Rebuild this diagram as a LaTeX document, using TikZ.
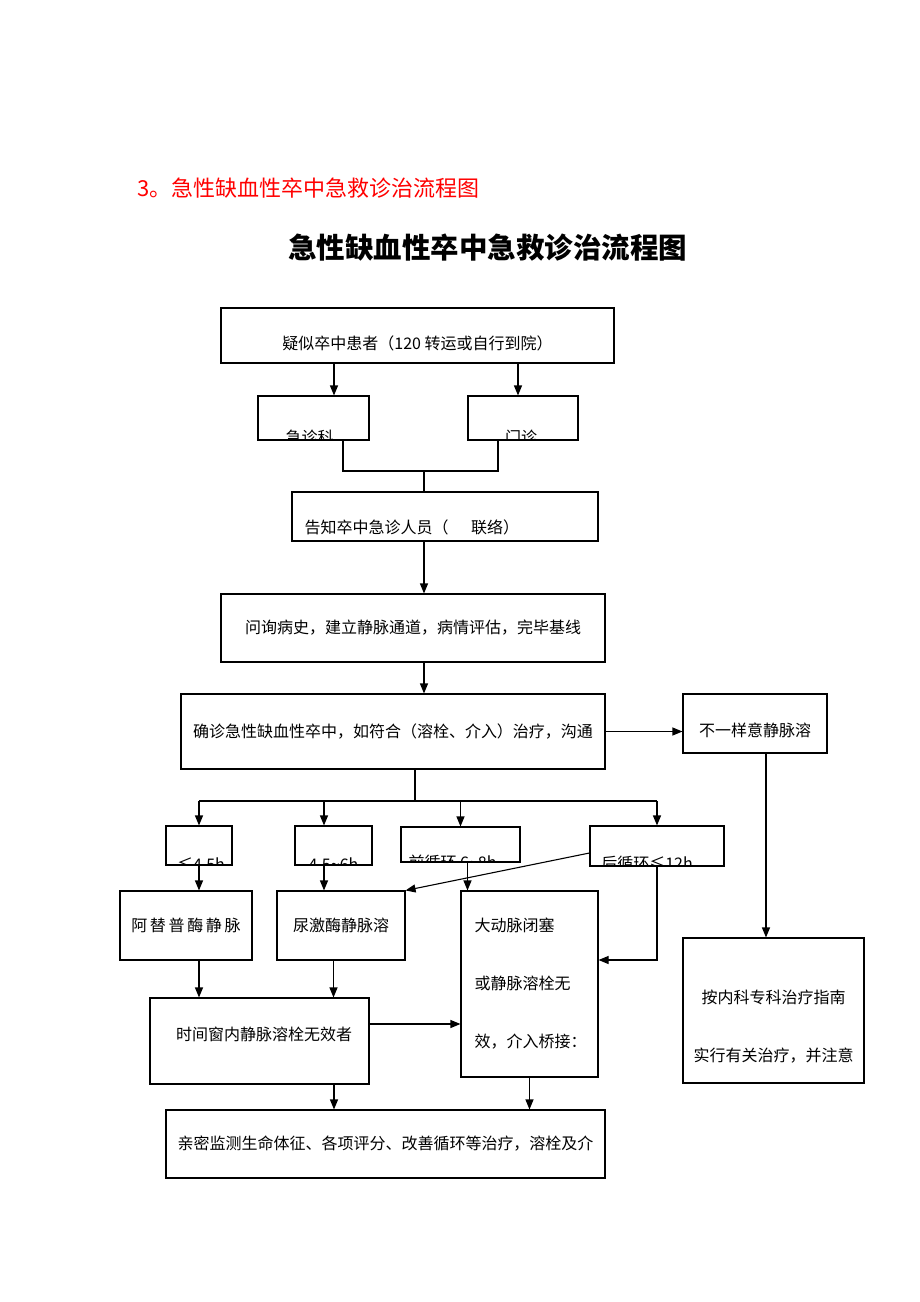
\documentclass[tikz,border=0pt]{standalone}
\usepackage{fontspec}
\newfontfamily\cjk{Noto Sans CJK SC}
\usetikzlibrary{arrows.meta}

\tikzset{
  box/.style={draw, line width=1.1pt, inner sep=0pt, font=\cjk\fontsize{16pt}{19pt}\selectfont},
  txt/.style={inner sep=0pt, font=\cjk\fontsize{16pt}{19pt}\selectfont},
  arr/.style={line width=1.1pt, -{Triangle[length=10pt,width=8pt]}},
  link/.style={line width=1.1pt}
}

\begin{document}
\begin{tikzpicture}[x=1pt,y=-1pt]
  \useasboundingbox (0,0) rectangle (920,1302);
  % headings
  \node[txt, anchor=west, text=red, font=\cjk\fontsize{22pt}{26pt}\selectfont] (head) at (137,188) {3。急性缺血性卒中急救诊治流程图};
  \node[txt, font=\cjk\bfseries\fontsize{28.5pt}{34pt}\selectfont] (title) at (487.5,248) {急性缺血性卒中急救诊治流程图};

  % boxes
  \node[box, minimum width=393, minimum height=55] (tb) at (417.5,335.5) {};
  \node[box, minimum width=111, minimum height=44] (jz) at (313.5,418) {};
  \node[box, minimum width=110, minimum height=44] (mz) at (523,418) {};
  \node[box, minimum width=306, minimum height=49] (gz) at (445,516.5) {};
  \node[box, minimum width=384, minimum height=68] (wx) at (413,628) {问询病史，建立静脉通道，病情评估，完毕基线};
  \node[box, minimum width=424, minimum height=75] (qz) at (393,731.5) {确诊急性缺血性卒中，如符合（溶栓、介入）治疗，沟通};
  \node[box, minimum width=144, minimum height=59] (by) at (755,723.5) {};
  \node[box, minimum width=181, minimum height=145] (nk) at (773.5,1010.5) {};
  \node[box, minimum width=66, minimum height=39] (a) at (199,845.5) {};
  \node[box, minimum width=77, minimum height=39] (b) at (333.5,845.5) {};
  \node[box, minimum width=119, minimum height=35] (c) at (460.5,844.5) {};
  \node[box, minimum width=134, minimum height=40] (d) at (657,846) {};
  \node[box, minimum width=132, minimum height=69] (at) at (186,925.5) {阿\,替\,普\,酶\,静\,脉};
  \node[box, minimum width=128, minimum height=69] (nj) at (341,925.5) {尿激酶静脉溶};
  \node[box, minimum width=137, minimum height=186] (dm) at (529.5,984) {};
  \node[box, minimum width=219, minimum height=86] (sj) at (259.5,1041) {};
  \node[box, minimum width=439, minimum height=68] (qm) at (385.5,1144) {亲密监测生命体征、各项评分、改善循环等治疗，溶栓及介};

  % texts
  \node[txt] (tbt) at ([yshift=-7.5pt]tb.center) {疑似卒中患者（120 转运或自行到院）};
  \node[txt, anchor=west] (gzt) at ([xshift=13pt,yshift=-10.5pt]gz.west) {告知卒中急诊人员（\hspace{1.4em}联络）};
  \node[txt] (byt) at ([yshift=-6.5pt]by.center) {不一样意静脉溶};
  \node[txt, align=center] (nkt) at ([yshift=-16.5pt]nk.center) {按内科专科治疗指南\\[39pt]实行有关治疗，并注意};
  \node[txt, anchor=west, align=left] (dmt) at ([xshift=14pt]dm.west) {大动脉闭塞\\[39pt]或静脉溶栓无\\[39pt]效，介入桥接：};
  \node[txt] (sjt) at ([xshift=4.5pt,yshift=7pt]sj.center) {时间窗内静脉溶栓无效者};

  % texts cut off by their boxes
  \begin{scope}
    \clip (jz.south west) rectangle (jz.north east);
    \node[txt, anchor=base] (jzt) at ([xshift=-4pt,yshift=-3pt]jz.south) {急诊科};
  \end{scope}
  \begin{scope}
    \clip (mz.south west) rectangle (mz.north east);
    \node[txt, anchor=base] (mzt) at ([xshift=-2pt,yshift=-3pt]mz.south) {门诊};
  \end{scope}
  \begin{scope}
    \clip (a.south west) rectangle (a.north east);
    \node[txt, anchor=base] (at1) at ([xshift=2pt,yshift=-5pt]a.south) {≤4.5h};
  \end{scope}
  \begin{scope}
    \clip (b.south west) rectangle (b.north east);
    \node[txt, anchor=base] (bt1) at ([yshift=-5pt]b.south) {4.5\textasciitilde6h};
  \end{scope}
  \begin{scope}
    \clip (c.south west) rectangle (c.north east);
    \node[txt, anchor=base] (ct1) at ([xshift=-8pt,yshift=-6pt]c.south) {前循环 6\textasciitilde8h};
  \end{scope}
  \begin{scope}
    \clip (d.south west) rectangle (d.north east);
    \node[txt, anchor=base] (dt1) at ([xshift=-10pt,yshift=-2.5pt]d.south) {后循环≤12h};
  \end{scope}

  % connectors
  \draw[arr] ([xshift=20.5pt]jz.north |- tb.south) -- ([xshift=20.5pt]jz.north);
  \draw[arr] ([xshift=-5pt]mz.north |- tb.south) -- ([xshift=-5pt]mz.north);
  \coordinate (jn) at (424,471);
  \draw[link] ([xshift=29.5pt]jz.south) -- ([xshift=29.5pt]jz.south |- jn) -- ([xshift=-25pt]mz.south |- jn) -- ([xshift=-25pt]mz.south);
  \draw[link] (jn) -- (jn |- gz.north);
  \draw[arr] (jn |- gz.south) -- (jn |- wx.north);
  \draw[arr] (jn |- wx.south) -- (jn |- qz.north);
  \draw[arr] (qz.east) -- (qz.east -| by.west);
  \draw[arr] ([xshift=11pt]by.south) -- ([xshift=11pt]by.south |- nk.north);
  \coordinate (bus) at (415,801);
  \draw[link] (bus |- qz.south) -- (bus);
  \draw[link] (a.north |- bus) -- (d.north |- bus);
  \draw[arr] (a.north |- bus) -- (a.north);
  \draw[arr] ([xshift=-9.5pt]b.north |- bus) -- ([xshift=-9.5pt]b.north);
  \draw[arr] (c.north |- bus) -- (c.north);
  \draw[arr] (d.north |- bus) -- (d.north);
  \draw[arr] (a.south) -- (a.south |- at.north);
  \draw[arr] ([xshift=-9.5pt]b.south) -- ([xshift=-9.5pt]b.south |- nj.north);
  \draw[arr] ([xshift=7pt]c.south) -- ([xshift=7pt]c.south |- dm.north);
  \draw[arr] ([yshift=-7pt]d.west) -- (nj.north east);
  \draw[arr] (d.south) |- ([yshift=24pt]dm.east);
  \draw[arr] (a.south |- at.south) -- (a.south |- sj.north);
  \draw[arr] (b.south |- nj.south) -- (b.south |- sj.north);
  \draw[arr] ([yshift=17pt]sj.east) -- ([yshift=17pt]sj.east -| dm.west);
  \draw[arr] ([xshift=74.5pt]sj.south) -- ([xshift=74.5pt]sj.south |- qm.north);
  \draw[arr] (dm.south) -- (dm.south |- qm.north);
\end{tikzpicture}
\end{document}
